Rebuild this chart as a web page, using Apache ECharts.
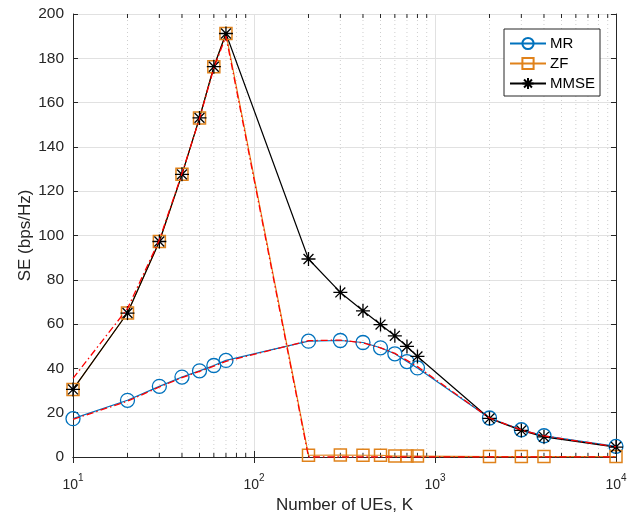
<!DOCTYPE html>
<html>
<head>
<meta charset="utf-8">
<script src="https://cdn.jsdelivr.net/npm/echarts@6/dist/echarts.min.js"></script>
<style>
html,body{margin:0;padding:0;background:#fff;}
#c{width:635px;height:514px;}
</style>
</head>
<body>
<div id="c"></div>
<script>
// ---- data ----
var K = [10, 20, 30, 40, 50, 60, 70, 200, 300, 400, 500, 600, 700, 800, 2000, 3000, 4000, 10000];
var seMR   = [17.3, 25.6, 31.9, 36.1, 38.9, 41.3, 43.6, 52.3, 52.6, 51.7, 49.3, 46.6, 43.1, 40.2, 17.6, 12.3, 9.6, 4.8];
var seZF   = [30.5, 65.0, 97.3, 127.6, 153.1, 176.2, 191.2, 0.8, 0.9, 0.8, 0.8, 0.4, 0.4, 0.4, 0.2, 0.2, 0.2, 0.2];
var seMMSE = [30.5, 65.0, 97.3, 127.6, 153.1, 176.2, 191.2, 89.4, 74.3, 66.0, 59.8, 54.7, 49.9, 45.4, 17.4, 12.0, 9.1, 4.5];
var apMR   = [17.0, 25.2, 31.6, 35.8, 38.7, 41.0, 43.2, 52.5, 52.8, 51.5, 49.3, 46.8, 43.6, 40.8, 17.6, 12.2, 9.5, 4.6];
var apZF   = [35.5, 67.0, 98.0, 128.0, 152.8, 175.6, 190.0, 0.0, 0.0, 0.0, 0.0, 0.0, 0.0, 0.0, 0.0, 0.0, 0.0, 0.0];
var minorX = [20, 30, 40, 50, 60, 70, 80, 90, 200, 300, 400, 500, 600, 700, 800, 900, 2000, 3000, 4000, 5000, 6000, 7000, 8000, 9000];
var xRange = [10, 10000];
var yRange = [0, 200];
var yStep = 20;

function pairs(xs, ys) { return xs.map(function (x, i) { return [x, ys[i]]; }); }

var FONT = 'Liberation Sans, Arial, Helvetica, sans-serif';
var TXT = '#262626';
var cBlue = '#0072BD', cOrange = '#E0821B', cRed = '#FF0000';
var asterisk = 'path://M0,-10L0,10M-10,0L10,0M-7.07,-7.07L7.07,7.07M-7.07,7.07L7.07,-7.07';

var chart = echarts.init(document.getElementById('c'), null, {renderer: 'canvas'});

var option = {
  animation: false,
  backgroundColor: '#fff',
  grid: {left: 73, right: 19, top: 14, bottom: 57, show: false, containLabel: false, outerBoundsMode: 'none'},
  legend: {
    data: ['MR', 'ZF', 'MMSE'],
    orient: 'vertical',
    left: 504, top: 29,
    backgroundColor: '#fff',
    borderColor: TXT, borderWidth: 1, borderRadius: 0,
    padding: [7, 5, 5, 5],
    itemWidth: 36, itemHeight: 14, itemGap: 5,
    textStyle: {fontFamily: FONT, fontSize: 15, color: '#000', padding: [0, 0, 0, -1]},
    selectedMode: false
  },
  xAxis: [{
    type: 'log', logBase: 10, min: xRange[0], max: xRange[1],
    name: 'Number of UEs, K', nameLocation: 'middle', nameGap: 40, nameMoveOverlap: false,
    nameTextStyle: {fontFamily: FONT, fontSize: 17, color: TXT},
    axisLine: {show: true, lineStyle: {color: TXT, width: 1}},
    axisTick: {show: true, inside: true, length: 6, lineStyle: {color: TXT}},
    splitLine: {show: true, lineStyle: {color: '#e1e1e1', width: 1}},
    axisLabel: {
      margin: 15, color: TXT, fontFamily: FONT, fontSize: 14,
      formatter: function (v) {
        var e = Math.round(Math.log10(v));
        return '{b|10}{s|' + e + '}';
      },
      rich: {
        b: {fontFamily: FONT, fontSize: 14, color: TXT, padding: [6, 0, 0, 0]},
        s: {fontFamily: FONT, fontSize: 10, color: TXT, padding: [0, 0, 8, 0]}
      }
    }
  }, {
    type: 'log', logBase: 10, min: xRange[0], max: xRange[1], position: 'top',
    axisLine: {show: true, lineStyle: {color: TXT, width: 1}},
    axisTick: {show: true, inside: true, length: 6, lineStyle: {color: TXT}},
    axisLabel: {show: false}, splitLine: {show: false}
  }],
  yAxis: [{
    type: 'value', min: yRange[0], max: yRange[1], interval: yStep,
    name: 'SE (bps/Hz)', nameLocation: 'middle', nameGap: 39, nameMoveOverlap: false,
    nameTextStyle: {fontFamily: FONT, fontSize: 17, color: TXT},
    axisLine: {show: true, lineStyle: {color: TXT, width: 1}},
    axisTick: {show: true, inside: true, length: 5, lineStyle: {color: TXT}},
    splitLine: {show: true, lineStyle: {color: '#e1e1e1', width: 1}},
    axisLabel: {margin: 9, color: TXT, fontFamily: FONT, fontSize: 15.5}
  }, {
    type: 'value', min: yRange[0], max: yRange[1], interval: yStep, position: 'right',
    axisLine: {show: true, lineStyle: {color: TXT, width: 1}},
    axisTick: {show: true, inside: true, length: 5, lineStyle: {color: TXT}},
    axisLabel: {show: false}, splitLine: {show: false}
  }],
  series: [
    {
      name: 'minor', type: 'custom', xAxisIndex: 0, yAxisIndex: 0, z: 1, silent: true,
      data: minorX.map(function (v) { return [v]; }),
      encode: {x: 0},
      renderItem: function (params, api) {
        var x = api.value(0);
        var p0 = api.coord([x, yRange[0]]);
        var p1 = api.coord([x, yRange[1]]);
        return {
          type: 'group',
          children: [
            {type: 'line', shape: {x1: p0[0], y1: p0[1], x2: p1[0], y2: p1[1]},
             style: {stroke: '#cfcfcf', lineWidth: 1, lineDash: [1, 3]}},
            {type: 'line', shape: {x1: p0[0], y1: p0[1], x2: p0[0], y2: p0[1] - 4},
             style: {stroke: TXT, lineWidth: 1}},
            {type: 'line', shape: {x1: p1[0], y1: p1[1], x2: p1[0], y2: p1[1] + 4},
             style: {stroke: TXT, lineWidth: 1}}
          ]
        };
      }
    },
    {
      name: 'MR', type: 'line', data: pairs(K, seMR), z: 3,
      symbol: 'circle', symbolSize: 14, showAllSymbol: true,
      lineStyle: {color: cBlue, width: 1.2},
      itemStyle: {color: 'rgba(0,0,0,0)', borderColor: cBlue, borderWidth: 1.3},
      emphasis: {disabled: true}
    },
    {
      name: 'ZF', type: 'line', data: pairs(K, seZF), z: 3,
      symbol: 'rect', symbolSize: 12, showAllSymbol: true,
      lineStyle: {color: cOrange, width: 1.2},
      itemStyle: {color: 'rgba(0,0,0,0)', borderColor: cOrange, borderWidth: 1.5},
      emphasis: {disabled: true}
    },
    {
      name: 'MMSE', type: 'line', data: pairs(K, seMMSE), z: 3,
      symbol: asterisk, symbolSize: 14, showAllSymbol: true,
      lineStyle: {color: '#000', width: 1.2},
      itemStyle: {color: '#000', borderColor: '#000', borderWidth: 1.3},
      emphasis: {disabled: true}
    },
    {
      name: 'MR approx', type: 'line', data: pairs(K, apMR), z: 4,
      symbol: 'none',
      lineStyle: {color: cRed, width: 1.3, type: [7, 3, 1.5, 3]},
      emphasis: {disabled: true}
    },
    {
      name: 'ZF approx', type: 'line', data: pairs(K, apZF), z: 4,
      symbol: 'none',
      lineStyle: {color: cRed, width: 1.3, type: [7, 3, 1.5, 3]},
      emphasis: {disabled: true}
    }
  ]
};
chart.setOption(option);
</script>
</body>
</html>
